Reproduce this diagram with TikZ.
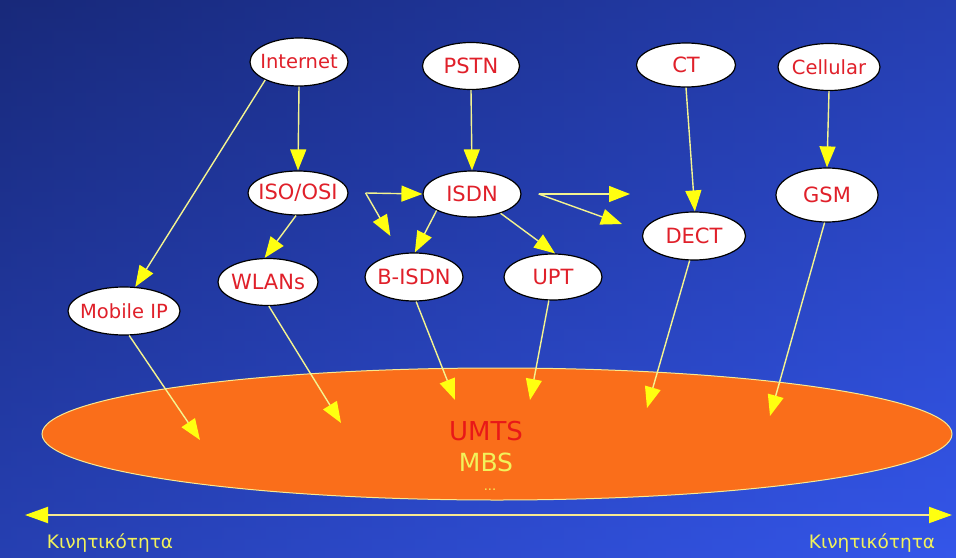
\documentclass[tikz,border=0pt]{standalone}
\usepackage{fontspec}
\setmainfont{DejaVu Sans}
\usetikzlibrary{shapes.geometric,arrows.meta}
\definecolor{bgL}{HTML}{18297A}
\definecolor{bgR}{HTML}{3456EA}
\definecolor{nodered}{HTML}{E0202A}
\definecolor{lineyellow}{HTML}{F4F490}
\definecolor{tipyellow}{HTML}{FFFF10}
\definecolor{umtsorange}{HTML}{FA6E1A}
\definecolor{ellline}{HTML}{F8E890}
\definecolor{umtsred}{HTML}{E81818}
\definecolor{labyellow}{HTML}{F2F25A}
\tikzset{
  bub/.style={ellipse, draw=black, line width=1.2pt, fill=white, inner sep=0pt,
    text=nodered, font=\fontsize{21}{24}\selectfont},
  bubsmall/.style={bub, font=\fontsize{19.5}{22}\selectfont},
  conn/.style={draw=lineyellow, line width=1.4pt,
    -{Triangle[length=21pt,width=16pt,color=tipyellow,fill=tipyellow]}},
  axisline/.style={draw=ellline, line width=2pt,
    {Triangle[length=23pt,width=16pt,color=tipyellow,fill=tipyellow]}-{Triangle[length=23pt,width=16pt,color=tipyellow,fill=tipyellow]}},
  lab/.style={text=labyellow, font=\fontsize{18.5}{22}\selectfont, inner sep=0pt}
}
\begin{document}
\begin{tikzpicture}[x=1pt,y=-1pt]
\useasboundingbox (0,0) rectangle (956,557);
\shade[left color=bgL, right color=bgR] (0,0) rectangle (956,557);
\shade[top color=bgL, bottom color=bgR, opacity=0.5] (0,0) rectangle (956,557);

% big ellipse
\node[ellipse, fill=umtsorange, draw=ellline, line width=1pt, inner sep=0pt,
  minimum width=910pt, minimum height=132pt] (umts) at (497,434) {};
\node[text=umtsred, font=\fontsize{26}{30}\selectfont, inner sep=0pt] (umtstxt) at (486,431) {UMTS};
\node[text=labyellow, font=\fontsize{25}{30}\selectfont, inner sep=0pt] (mbstxt) at (486,462) {MBS};
\node[text=labyellow, font=\fontsize{13}{16}\selectfont, inner sep=0pt] (dots) at (490,490) {...};

% small ellipses
\node[bubsmall, minimum width=98pt, minimum height=48pt] (internet) at (299,62) {\makebox[0pt]{Internet}};
\node[bub, minimum width=97pt, minimum height=47pt] (pstn) at (471,66) {\makebox[0pt]{PSTN}};
\node[bub, minimum width=99pt, minimum height=44pt] (ct) at (686,65) {\makebox[0pt]{CT}};
\node[bubsmall, minimum width=102pt, minimum height=47pt] (cellular) at (829,67) {\makebox[0pt]{Cellular}};
\node[bub, minimum width=100pt, minimum height=44pt] (iso) at (298,193) {\makebox[0pt]{ISO/OSI}};
\node[bub, minimum width=98pt, minimum height=46pt] (isdn) at (472,194) {\makebox[0pt]{ISDN}};
\node[bub, minimum width=102pt, minimum height=54pt] (gsm) at (827,195) {\makebox[0pt]{GSM}};
\node[bub, minimum width=103pt, minimum height=48pt] (dect) at (694,236) {\makebox[0pt]{DECT}};
\node[bub, minimum width=98pt, minimum height=48pt] (bisdn) at (414,277) {\makebox[0pt]{B-ISDN}};
\node[bub, minimum width=98pt, minimum height=46pt] (upt) at (553,277) {\makebox[0pt]{UPT}};
\node[bub, minimum width=100pt, minimum height=47pt] (wlans) at (268,282) {\makebox[0pt]{WLANs}};
\node[bubsmall, minimum width=112pt, minimum height=48pt] (mobileip) at (124,311) {\makebox[0pt]{Mobile IP}};

% helper coordinates
\coordinate (fork1) at ([xshift=17pt]iso.east);
\coordinate (fork2) at ([xshift=17pt]isdn.east);
\coordinate (r1) at (630,194);
\coordinate (r2) at (622,224);
\coordinate (t1) at (200,440);
\coordinate (t2) at (341,423);
\coordinate (t3) at (455,400);
\coordinate (t4) at (530,400);
\coordinate (t5) at (647,408);
\coordinate (t6) at (770,416);

% connectors
\draw[conn] (internet.south) -- (iso.north);
\draw[conn] (internet.208) -- (mobileip.65);
\draw[conn] (pstn.south) -- (isdn.north);
\draw[conn] (iso.-95) -- (wlans.98);
\draw[conn] (fork1) -- (isdn.west);
\draw[conn, shorten >=20pt] (fork1) -- (bisdn);
\draw[conn] (isdn.205) -- (bisdn.88);
\draw[conn] (isdn.-34) -- (upt.85);
\draw[conn] (fork2) -- (r1);
\draw[conn] (fork2) -- (r2);
\draw[conn] (ct.south) -- (dect.88);
\draw[conn] (cellular.south) -- (gsm.north);
\draw[conn] (mobileip.-78) -- (t1);
\draw[conn] (wlans.-88) -- (t2);
\draw[conn] (bisdn.-85) -- (t3);
\draw[conn] (upt.-100) -- (t4);
\draw[conn] (dect.-100) -- (t5);
\draw[conn] (gsm.-95) -- (t6);

% mobility axis
\coordinate (axL) at (25,515);
\coordinate (axR) at (952,515);
\draw[axisline] (axL) -- (axR);
\node[lab] (labL) at (110,543) {Κινητικότητα};
\node[lab] (labR) at (872,543) {Κινητικότητα};
\end{tikzpicture}
\end{document}
